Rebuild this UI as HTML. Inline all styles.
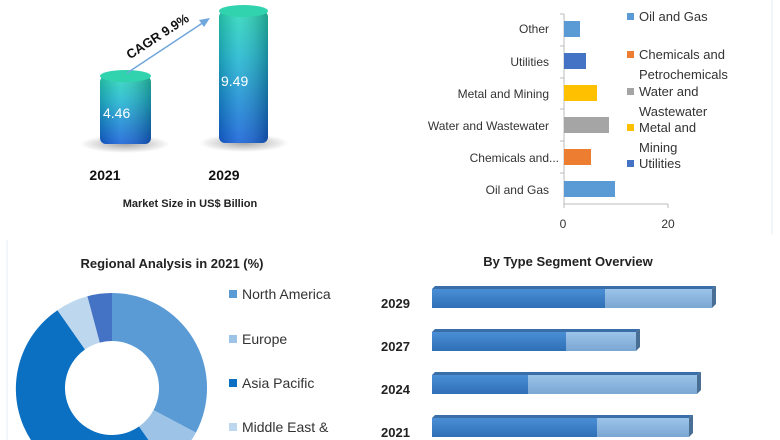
<!DOCTYPE html>
<html><head><meta charset="utf-8"><style>
html,body{margin:0;padding:0;background:#fff;width:780px;height:440px;overflow:hidden;font-family:"Liberation Sans",sans-serif}
svg{display:block;overflow:hidden}
</style></head><body>
<svg width="780" height="440" viewBox="0 0 780 440" xmlns="http://www.w3.org/2000/svg" font-family="Liberation Sans, sans-serif">
<defs>
<clipPath id="clip"><rect x="0" y="0" width="780" height="440"/></clipPath>
<linearGradient id="cyl" x1="0" y1="0" x2="0" y2="1">
<stop offset="0" stop-color="#2ad8b8"/><stop offset="0.35" stop-color="#1fb8d0"/><stop offset="1" stop-color="#1460d8"/></linearGradient>
<linearGradient id="cylh" x1="0" y1="0" x2="1" y2="0">
<stop offset="0" stop-color="#000" stop-opacity="0.15"/><stop offset="0.4" stop-color="#fff" stop-opacity="0.12"/><stop offset="1" stop-color="#000" stop-opacity="0.25"/></linearGradient>
<radialGradient id="sh"><stop offset="0" stop-color="#000" stop-opacity="0.35"/><stop offset="1" stop-color="#000" stop-opacity="0"/></radialGradient>
<linearGradient id="dk" x1="0" y1="0" x2="0" y2="1"><stop offset="0" stop-color="#4a8fd6"/><stop offset="1" stop-color="#2f6fb5"/></linearGradient>
<linearGradient id="lt" x1="0" y1="0" x2="0" y2="1"><stop offset="0" stop-color="#9cc4ea"/><stop offset="1" stop-color="#7aa6d2"/></linearGradient>
</defs>
<g clip-path="url(#clip)">
<line x1="7" y1="240" x2="7" y2="440" stroke="#e4ecf4"/>
<line x1="772" y1="0" x2="772" y2="235" stroke="#e4ecf4"/>
<ellipse cx="125" cy="144" rx="45" ry="9" fill="url(#sh)"/>
<ellipse cx="244" cy="143" rx="45" ry="9" fill="url(#sh)"/>
<rect x="100" y="76" width="51" height="68" rx="6" fill="url(#cyl)"/>
<rect x="100" y="76" width="51" height="68" rx="6" fill="url(#cylh)"/>
<ellipse cx="125.5" cy="76" rx="25.5" ry="6" fill="#30d3ad"/>
<rect x="219" y="11" width="49" height="132" rx="6" fill="url(#cyl)"/>
<rect x="219" y="11" width="49" height="132" rx="6" fill="url(#cylh)"/>
<ellipse cx="243.5" cy="11" rx="24.5" ry="6" fill="#30d3ad"/>
<text x="103" y="118" fill="#fff" font-size="14">4.46</text>
<text x="221" y="86" fill="#fff" font-size="14">9.49</text>
<line x1="127" y1="73" x2="204" y2="22" stroke="#6fa6dc" stroke-width="1.5"/>
<polygon points="210,18 199,20 204,27" fill="#6fa6dc"/>
<text x="160" y="40" font-size="13" font-weight="bold" fill="#111" transform="rotate(-33 160 40)" text-anchor="middle">CAGR 9.9%</text>
<text x="105" y="180" font-size="14" font-weight="bold" fill="#111" text-anchor="middle">2021</text>
<text x="224" y="180" font-size="14" font-weight="bold" fill="#111" text-anchor="middle">2029</text>
<text x="190" y="207" font-size="11" font-weight="bold" fill="#222" text-anchor="middle">Market Size in US$ Billion</text>
<line x1="564" y1="14" x2="564" y2="204" stroke="#bbb"/>
<line x1="564" y1="204" x2="668" y2="204" stroke="#bbb"/>
<g stroke="#bbb"><line x1="560" y1="14" x2="564" y2="14"/><line x1="560" y1="46" x2="564" y2="46"/><line x1="560" y1="78" x2="564" y2="78"/><line x1="560" y1="109" x2="564" y2="109"/><line x1="560" y1="141" x2="564" y2="141"/><line x1="560" y1="173" x2="564" y2="173"/><line x1="564" y1="204" x2="564" y2="208"/><line x1="668" y1="204" x2="668" y2="208"/></g>
<rect x="564" y="21" width="16" height="16" fill="#5b9bd5"/>
<rect x="564" y="53" width="22" height="16" fill="#4472c4"/>
<rect x="564" y="85" width="33" height="16" fill="#ffc000"/>
<rect x="564" y="117" width="45" height="16" fill="#a5a5a5"/>
<rect x="564" y="149" width="27" height="16" fill="#ed7d31"/>
<rect x="564" y="181" width="51" height="16" fill="#5b9bd5"/>
<g font-size="12" fill="#333" text-anchor="end">
<text x="549" y="33">Other</text><text x="549" y="66">Utilities</text><text x="549" y="98">Metal and Mining</text><text x="549" y="130">Water and Wastewater</text><text x="559" y="162">Chemicals and...</text><text x="549" y="194">Oil and Gas</text></g>
<text x="563" y="228" font-size="12" fill="#333" text-anchor="middle">0</text>
<text x="668" y="228" font-size="12" fill="#333" text-anchor="middle">20</text>
<g font-size="13" fill="#333">
<rect x="627" y="13" width="7" height="7" fill="#5b9bd5"/><text x="639" y="21">Oil and Gas</text>
<rect x="627" y="51" width="7" height="7" fill="#ed7d31"/><text x="639" y="59">Chemicals and</text><text x="639" y="79">Petrochemicals</text>
<rect x="627" y="88" width="7" height="7" fill="#a5a5a5"/><text x="639" y="96">Water and</text><text x="639" y="116">Wastewater</text>
<rect x="627" y="124" width="7" height="7" fill="#ffc000"/><text x="639" y="132">Metal and</text><text x="639" y="152">Mining</text>
<rect x="627" y="160" width="7" height="7" fill="#4472c4"/><text x="639" y="168">Utilities</text></g>
<text x="172" y="268" font-size="13" font-weight="bold" fill="#222" text-anchor="middle">Regional Analysis in 2021 (%)</text>
<g transform="translate(112 388)">
<path d="M0,-95 A95,95 0 0 1 83.9,44.6 L41.5,22.1 A47,47 0 0 0 0,-47Z" fill="#5b9bd5"/>
<path d="M83.9,44.6 A95,95 0 0 1 54.5,77.8 L27,38.5 A47,47 0 0 0 41.5,22.1Z" fill="#9dc3e6"/>
<path d="M54.5,77.8 A95,95 0 1 1 -54.5,-77.8 L-27,-38.5 A47,47 0 1 0 27,38.5Z" fill="#0b6fc2"/>
<path d="M-54.5,-77.8 A95,95 0 0 1 -24.6,-91.8 L-12.2,-45.4 A47,47 0 0 0 -27,-38.5Z" fill="#bdd7ee"/>
<path d="M-24.6,-91.8 A95,95 0 0 1 0,-95 L0,-47 A47,47 0 0 0 -12.2,-45.4Z" fill="#4472c4"/>
</g>
<g font-size="14" fill="#333">
<rect x="229" y="290" width="8" height="8" fill="#5b9bd5"/><text x="242" y="299">North America</text>
<rect x="229" y="335" width="8" height="8" fill="#9dc3e6"/><text x="242" y="344">Europe</text>
<rect x="229" y="379" width="8" height="8" fill="#0b6fc2"/><text x="242" y="388">Asia Pacific</text>
<rect x="229" y="423" width="8" height="8" fill="#bdd7ee"/><text x="242" y="432">Middle East &amp;</text></g>
<text x="568" y="266" font-size="13" font-weight="bold" fill="#222" text-anchor="middle">By Type Segment Overview</text>
<g font-size="13" font-weight="bold" fill="#222">
<text x="381" y="308">2029</text><text x="381" y="351">2027</text><text x="381" y="394">2024</text><text x="381" y="437">2021</text></g>
<g>
<polygon points="432,289 435,286 716,286 712,289" fill="#3a6ea8"/><polygon points="712,289 716,286 716,304 712,308" fill="#4a6f95"/>
<rect x="432" y="289" width="173" height="19" fill="url(#dk)"/><rect x="605" y="289" width="107" height="19" fill="url(#lt)"/>
<polygon points="432,332 435,329 640,329 636,332" fill="#3a6ea8"/><polygon points="636,332 640,329 640,347 636,351" fill="#4a6f95"/>
<rect x="432" y="332" width="134" height="19" fill="url(#dk)"/><rect x="566" y="332" width="70" height="19" fill="url(#lt)"/>
<polygon points="432,375 435,372 701,372 697,375" fill="#3a6ea8"/><polygon points="697,375 701,372 701,390 697,394" fill="#4a6f95"/>
<rect x="432" y="375" width="96" height="19" fill="url(#dk)"/><rect x="528" y="375" width="169" height="19" fill="url(#lt)"/>
<polygon points="432,418 435,415 693,415 689,418" fill="#3a6ea8"/><polygon points="689,418 693,415 693,433 689,437" fill="#4a6f95"/>
<rect x="432" y="418" width="165" height="19" fill="url(#dk)"/><rect x="597" y="418" width="92" height="19" fill="url(#lt)"/>
</g>
</g>
</svg>
</body></html>
